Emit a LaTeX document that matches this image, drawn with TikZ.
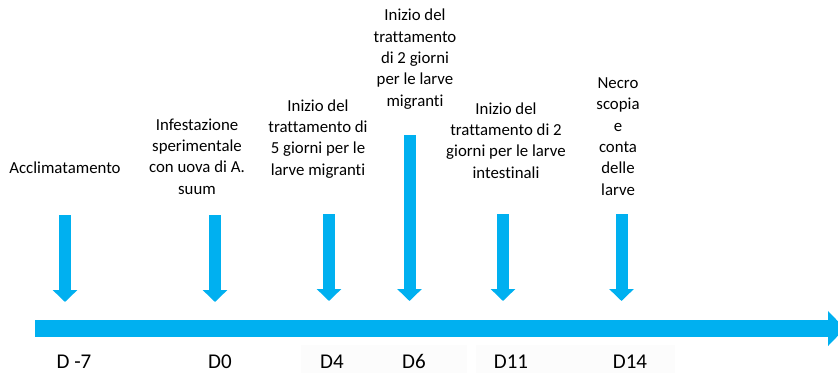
\documentclass[tikz,border=0pt]{standalone}
\usepackage{fontspec}
\setmainfont{Carlito}[Ligatures=NoCommon]
\usetikzlibrary{arrows.meta}
\definecolor{tlcyan}{RGB}{0,176,240}
\definecolor{faintbg}{RGB}{252,252,252}
\tikzset{
  downarrow/.style={draw=tlcyan, line width=12pt, -{Triangle[width=24pt,length=12pt]}},
  timeline/.style={draw=tlcyan, line width=17pt, -{Triangle[width=34pt,length=17pt]}},
  lbl/.style={align=center, inner sep=0pt, anchor=base, font=\fontsize{16.8}{21.3}\selectfont, text=black},
  daylbl/.style={inner sep=0pt, anchor=base, font=\fontsize{21}{25}\selectfont, text=black}
}
\begin{document}
\begin{tikzpicture}[x=1pt,y=-1pt]
\useasboundingbox (0,0) rectangle (838,373);
% faint backgrounds behind day labels
\fill[faintbg] (301,345) rectangle (467,373);
\fill[faintbg] (476,345) rectangle (675,373);
% timeline
\coordinate (tlstart) at (35,328.5);
\coordinate (tlend) at (845,328.5);
\draw[timeline] (tlstart) -- (tlend);
% down arrows
\coordinate (a1t) at (65,215);   \coordinate (a1b) at (65,302);
\coordinate (a2t) at (215,215);  \coordinate (a2b) at (215,302);
\coordinate (a3t) at (329,214);  \coordinate (a3b) at (329,301);
\coordinate (a4t) at (409.5,135);\coordinate (a4b) at (409.5,301);
\coordinate (a5t) at (503,214);  \coordinate (a5b) at (503,301);
\coordinate (a6t) at (621.5,214);\coordinate (a6b) at (621.5,301);
\draw[downarrow] (a1t) -- (a1b);
\draw[downarrow] (a2t) -- (a2b);
\draw[downarrow] (a3t) -- (a3b);
\draw[downarrow] (a4t) -- (a4b);
\draw[downarrow] (a5t) -- (a5b);
\draw[downarrow] (a6t) -- (a6b);
% event labels (base anchor = baseline of last line)
\node[lbl] (l1) at (65,173) {Acclimatamento};
\node[lbl] (l2) at (197,194) {Infestazione\\sperimentale\\con uova di A.\\suum};
\node[lbl] (l3) at (318,175) {Inizio del\\trattamento di\\5 giorni per le\\larve migranti};
\node[lbl] (l4) at (415,106) {Inizio del\\trattamento\\di 2 giorni\\per le larve\\migranti};
\node[lbl] (l5) at (506,178) {Inizio del\\trattamento di 2\\giorni per le larve\\intestinali};
\node[lbl] (l6) at (618,195) {Necro\\scopia\\e\\conta\\delle\\larve};
% day labels
\node[daylbl] (d1) at (74,368.5) {D -7};
\node[daylbl] (d2) at (220,368.5) {D0};
\node[daylbl] (d3) at (332,368.5) {D4};
\node[daylbl] (d4) at (414,368.5) {D6};
\node[daylbl] (d5) at (511,368.5) {D11};
\node[daylbl] (d6) at (630,368.5) {D14};
\end{tikzpicture}
\end{document}
